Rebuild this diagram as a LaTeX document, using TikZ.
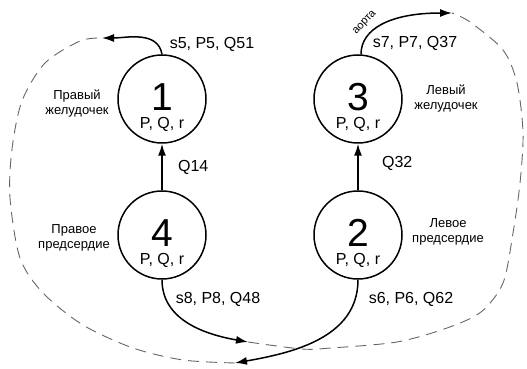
\documentclass[tikz,border=0pt]{standalone}
\usepackage{fontspec}
\setmainfont{Liberation Sans}
\usetikzlibrary{arrows.meta}

\begin{document}
\begin{tikzpicture}[x=1pt, y=1pt,
   chamber/.style={draw, circle, line width=1.5pt, minimum size=88pt, inner sep=0pt},
   bignum/.style={font=\fontsize{39}{39}\selectfont},
   params/.style={font=\fontsize{16}{16}\selectfont},
   flowlabel/.style={font=\fontsize{16}{16}\selectfont},
   sidelabel/.style={align=center, font=\fontsize{13}{15}\selectfont},
   flow/.style={-{Latex[length=12pt,width=8pt]}, line width=1.5pt},
   vessel/.style={dash pattern=on 11pt off 7pt, line width=0.9pt, color=gray!80!black}]
   \useasboundingbox (0,0) rectangle (527,369);

   % chambers
   \node [chamber] (rv) at (162,270) {};
   \node [chamber] (ra) at (162,134) {};
   \node [chamber] (lv) at (358,270) {};
   \node [chamber] (la) at (358,134) {};
   \node [bignum] (rvnum) at ([yshift=2pt]rv.center) {1};
   \node [bignum] (ranum) at ([yshift=2pt]ra.center) {4};
   \node [bignum] (lvnum) at ([yshift=2pt]lv.center) {3};
   \node [bignum] (lanum) at ([yshift=2pt]la.center) {2};
   \node [params] (rvpar) at ([yshift=-25pt]rv.center) {P, Q, r};
   \node [params] (rapar) at ([yshift=-25pt]ra.center) {P, Q, r};
   \node [params] (lvpar) at ([yshift=-25pt]lv.center) {P, Q, r};
   \node [params] (lapar) at ([yshift=-25pt]la.center) {P, Q, r};

   \node [sidelabel] (rvname) at (77,265) {Правый\\желудочек};
   \node [sidelabel] (raname) at (74,131) {Правое\\предсердие};
   \node [sidelabel] (lvname) at (446,270) {Левый\\желудочек};
   \node [sidelabel] (laname) at (448,137) {Левое\\предсердие};

   % arrow tips of the vessels
   \coordinate (t5) at (102,331);
   \coordinate (t7) at (452,356);
   \coordinate (t8) at (248,27);
   \coordinate (t6) at (235,6);

   % flows
   \draw[flow] (ra) -- (rv) node[midway, right=12pt, flowlabel] (q14) {Q14};
   \draw[flow] (la) -- (lv) node[midway, right=20pt, yshift=4pt, flowlabel] (q32) {Q32};
   \draw[flow] (rv.north) to[out=100, in=0] (t5);
   \draw[flow] ([xshift=3pt]lv.north) .. controls (361,340) and (390,356) .. (t7);
   \draw[flow] (ra.south) to[out=-90, in=170] (t8);
   \draw[flow] (la.south) to[out=-90, in=10] (t6);
   \node [flowlabel] (s5) at (212,325) {s5, P5, Q51};
   \node [flowlabel] (s7) at (415,326) {s7, P7, Q37};
   \node [flowlabel] (s8) at (218,70) {s8, P8, Q48};
   \node [flowlabel] (s6) at (411,70) {s6, P6, Q62};
   \node [rotate=47, inner sep=0pt, font=\fontsize{11}{11}\selectfont] (aorta) at (365,346) {аорта};

   % vessels
   \draw[vessel] plot[smooth] coordinates {(t6) (183,9) (133,21) (83,44) (43,76) (20,111)
      (10,171) (12,220) (22,268) (45,306) (80,328) (t5)};
   \draw[vessel] plot[smooth] coordinates {(t8) (302,20) (331,21) (397,27) (447,41) (481,57)
      (503,86) (513,136) (520,186) (523,236) (517,286) (503,319) (470,347) (t7)};
\end{tikzpicture}
\end{document}
